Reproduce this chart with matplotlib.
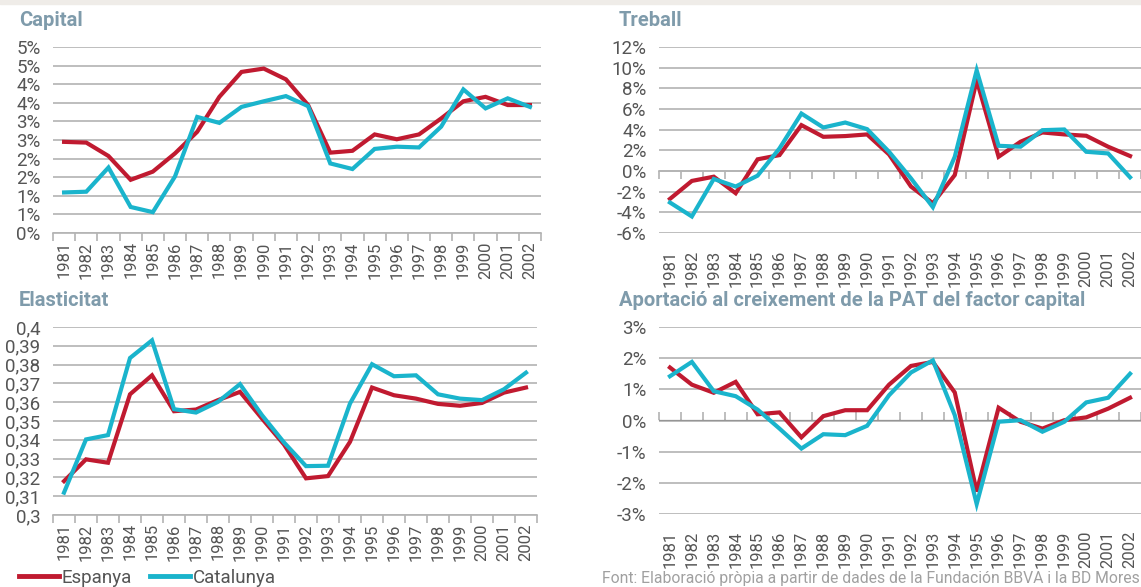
import matplotlib
matplotlib.use('Agg')
import matplotlib.pyplot as plt
from matplotlib.lines import Line2D

plt.rcParams['font.family'] = ['Roboto', 'DejaVu Sans']

# ---------------------------------------------------------------------------------------------
# data
# ---------------------------------------------------------------------------------------------
years = [str(y) for y in range(1981, 2003)]

capital_esp = [2.45, 2.43, 2.07, 1.43, 1.65, 2.14, 2.72, 3.66, 4.33, 4.42, 4.13,
               3.44, 2.16, 2.21, 2.65, 2.52, 2.65, 3.08, 3.54, 3.66, 3.44, 3.44]
capital_cat = [1.09, 1.11, 1.76, 0.70, 0.56, 1.52, 3.12, 2.96, 3.39, 3.54, 3.68,
               3.41, 1.87, 1.72, 2.26, 2.32, 2.30, 2.86, 3.86, 3.35, 3.62, 3.39]

treball_esp = [-2.7, -0.96, -0.55, -2.15, 1.13, 1.54, 4.44, 3.31, 3.38, 3.54, 1.6,
               -1.5, -3.12, -0.39, 8.78, 1.38, 2.83, 3.73, 3.54, 3.41, 2.35, 1.45]
treball_cat = [-3.05, -4.4, -0.77, -1.5, -0.45, 2.19, 5.56, 4.21, 4.69, 4.05, 1.86,
               -0.71, -3.5, 1.38, 9.74, 2.44, 2.35, 3.95, 4.02, 1.86, 1.7, -0.61]

elast_esp = [0.318, 0.3296, 0.3278, 0.3642, 0.3743, 0.3552, 0.3561, 0.3611, 0.3655,
             0.3513, 0.3375, 0.3195, 0.3207, 0.3389, 0.3678, 0.3637, 0.3619, 0.3591,
             0.3581, 0.3596, 0.3651, 0.3678]
elast_cat = [0.3119, 0.3402, 0.3425, 0.3835, 0.3929, 0.3563, 0.3545, 0.3602, 0.3696,
             0.3531, 0.3386, 0.326, 0.3262, 0.3593, 0.3802, 0.3738, 0.3743, 0.3642,
             0.3619, 0.3611, 0.3669, 0.3757]

aport_esp = [1.70, 1.15, 0.89, 1.24, 0.20, 0.26, -0.54, 0.14, 0.33, 0.33, 1.15,
             1.75, 1.88, 0.90, -2.28, 0.41, -0.04, -0.26, 0.01, 0.10, 0.38, 0.73]
aport_cat = [1.42, 1.88, 0.94, 0.78, 0.35, -0.26, -0.90, -0.44, -0.47, -0.17, 0.81,
             1.54, 1.93, 0.17, -2.68, -0.04, 0.01, -0.36, -0.04, 0.58, 0.73, 1.50]

# tick values and the labels printed in the source (rounded like a spreadsheet does)
capital_ticks = [0, 0.5, 1, 1.5, 2, 2.5, 3, 3.5, 4, 4.5, 5]
capital_labels = ['0%', '1%', '1%', '2%', '2%', '3%', '3%', '4%', '4%', '5%', '5%']
treball_ticks = [-6, -4, -2, 0, 2, 4, 6, 8, 10, 12]
treball_labels = ['-6%', '-4%', '-2%', '0%', '2%', '4%', '6%', '8%', '10%', '12%']
elast_ticks = [0.30, 0.31, 0.32, 0.33, 0.34, 0.35, 0.36, 0.37, 0.38, 0.39, 0.40]
elast_labels = ['0,3', '0,31', '0,32', '0,33', '0,34', '0,35', '0,36', '0,37', '0,38', '0,39', '0,4']
aport_ticks = [-3, -2, -1, 0, 1, 2, 3]
aport_labels = ['-3%', '-2%', '-1%', '0%', '1%', '2%', '3%']

RED = '#c01a30'
CYAN = '#1ab4cc'
GRID = '#b3b3b3'
TITLE = '#7f9bab'
LABEL = '#555555'

W, H = 1141, 587
fig = plt.figure(figsize=(W / 100, H / 100), dpi=100)
fig.patches.append(plt.Rectangle((0, 1 - 4 / H), 1, 4 / H, transform=fig.transFigure,
                                 color='#efece8', zorder=0))


# build one panel; box given in pixels (left, top, right, bottom), title x in pixels
def panel(box, title_x, esp, cat, ticks, labels, title, zero_axis):
    l, t, r, b = box
    ax = fig.add_axes([l / W, 1 - b / H, (r - l) / W, (b - t) / H])
    ax.plot(years, esp, color=RED, lw=3, solid_joinstyle='miter', zorder=3)
    ax.plot(years, cat, color=CYAN, lw=3, solid_joinstyle='miter', zorder=4)
    ax.set_xlim(-0.5, len(years) - 0.5)
    ax.set_ylim(ticks[0], ticks[-1])
    ax.set_yticks(ticks)
    ax.set_yticklabels(labels)
    ax.grid(axis='y', color=GRID, lw=1.2)
    ax.set_axisbelow(True)
    for s in ['top', 'right', 'left']:
        ax.spines[s].set_visible(False)
    ax.tick_params(axis='y', length=0, pad=9, labelsize=13.5, labelcolor=LABEL)
    ax.tick_params(axis='x', which='major', length=0, pad=6, labelsize=12,
                   labelcolor=LABEL, labelrotation=90)
    bounds = [i - 0.5 for i in range(len(years) + 1)]
    if zero_axis:
        # category separators sit on the 0 line, year labels stay at the bottom
        ax.spines['bottom'].set_visible(False)
        frac = (0 - ticks[0]) / (ticks[-1] - ticks[0])
        sec = ax.secondary_xaxis(frac)
        sec.set_xticks(bounds)
        sec.set_xticklabels([])
        sec.tick_params(length=6, width=1.2, color=GRID, direction='out')
        sec.spines['bottom'].set_color(GRID)
        sec.spines['bottom'].set_linewidth(1.2)
        ax.tick_params(axis='x', pad=12)
    else:
        ax.spines['bottom'].set_color(GRID)
        ax.spines['bottom'].set_linewidth(1.2)
        ax.set_xticks(bounds, minor=True)
        ax.tick_params(axis='x', which='minor', length=6, width=1.2, color=GRID)
    fig.text(title_x / W, 1 - (t - 27) / H, title,
             color=TITLE, fontsize=14.5, fontweight='bold', va='center', ha='left')
    return ax


panel((53, 47, 541, 233), 19, capital_esp, capital_cat, capital_ticks, capital_labels,
      'Capital', False)
panel((659, 47, 1141, 233), 619, treball_esp, treball_cat, treball_ticks, treball_labels,
      'Treball', True)
panel((53, 327, 537, 515), 19, elast_esp, elast_cat, elast_ticks, elast_labels,
      'Elasticitat', False)
panel((659, 327, 1141, 514), 619, aport_esp, aport_cat, aport_ticks, aport_labels,
      'Aportació al creixement de la PAT del factor capital', True)

# legend along the bottom left
handles = [Line2D([], [], color=RED, lw=3.5), Line2D([], [], color=CYAN, lw=3.5)]
fig.legend(handles, ['Espanya', 'Catalunya'], loc='center left', ncol=2,
           bbox_to_anchor=(6 / W, 1 - 578 / H), frameon=False, fontsize=13.5,
           handlelength=2.1, handletextpad=0.15, columnspacing=1.0,
           labelcolor=LABEL, borderpad=0.2)

fig.text(1 - 1 / W, 1 - 579 / H,
         'Font: Elaboració pròpia a partir de dades de la Fundación BBVA i la BD Mores',
         ha='right', va='center', fontsize=11.3, color='#a0a0a0')

fig.savefig('out.png', dpi=100)
